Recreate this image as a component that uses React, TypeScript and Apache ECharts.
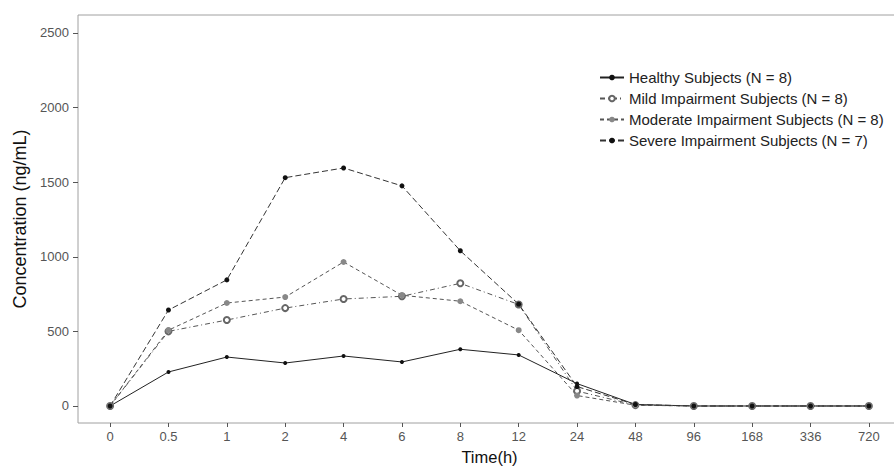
import React, { useEffect, useRef } from "react";
import * as echarts from "echarts";

const timeLabels = ["0", "0.5", "1", "2", "4", "6", "8", "12", "24", "48", "96", "168", "336", "720"];
const yTicks = [0, 500, 1000, 1500, 2000, 2500];

const healthy = [0, 228, 328, 288, 335, 295, 380, 342, 150, 10, 0, 0, 0, 0];
const mild = [0, 500, 576, 656, 717, 735, 822, 680, 100, 6, 0, 0, 0, 0];
const moderate = [0, 508, 690, 730, 965, 742, 702, 508, 70, 5, 0, 0, 0, 0];
const severe = [0, 643, 845, 1530, 1595, 1475, 1040, 682, 130, 10, 0, 0, 0, 0];

const seriesNames = [
  "Healthy Subjects (N = 8)",
  "Mild Impairment Subjects (N = 8)",
  "Moderate Impairment Subjects (N = 8)",
  "Severe Impairment Subjects (N = 7)",
];

const FONT = "'Liberation Sans', Arial, sans-serif";

export default function App() {
  const ref = useRef<HTMLDivElement>(null);
  useEffect(() => {
    if (!ref.current) return;
    const chart = echarts.init(ref.current, undefined, { renderer: "svg" });
    const toPts = (arr: number[]) => arr.map((v, i) => [i, v]);
    const idx = timeLabels.map((_, i) => i);
    chart.setOption({
      animation: false,
      backgroundColor: "#ffffff",
      textStyle: { fontFamily: FONT },
      grid: {
        left: 78,
        right: -7,
        top: 15,
        bottom: 43,
        show: true,
        borderColor: "#a0a0a0",
        borderWidth: 1,
        containLabel: false,
        outerBoundsMode: "none",
      },
      legend: {
        orient: "vertical",
        left: 599,
        top: 70,
        padding: 0,
        itemWidth: 24,
        itemHeight: 7,
        itemGap: 6,
        textStyle: { fontFamily: FONT, fontSize: 15, color: "#222222" },
        data: seriesNames,
      },
      xAxis: {
        type: "value",
        min: -0.55,
        max: 13.55,
        name: "Time(h)",
        nameLocation: "middle",
        nameGap: 25,
        nameTextStyle: { fontFamily: FONT, fontSize: 16.5, color: "#111111" },
        axisLine: { show: false, onZero: false },
        splitLine: { show: false },
        axisTick: {
          show: true,
          length: 4,
          customValues: idx,
          lineStyle: { color: "#555555" },
        },
        axisLabel: {
          customValues: idx,
          formatter: (v: number) => timeLabels[Math.round(v)] ?? "",
          fontFamily: FONT,
          fontSize: 13,
          color: "#555555",
          margin: 7,
        },
      },
      yAxis: {
        type: "value",
        min: -114,
        max: 2620,
        name: "Concentration (ng/mL)",
        nameLocation: "middle",
        nameGap: 46,
        nameTextStyle: { fontFamily: FONT, fontSize: 18, color: "#111111" },
        axisLine: { show: false, onZero: false },
        splitLine: { show: false },
        axisTick: {
          show: true,
          length: 5,
          customValues: yTicks,
          lineStyle: { color: "#555555" },
        },
        axisLabel: {
          customValues: yTicks,
          formatter: (v: number) => String(v),
          fontFamily: FONT,
          fontSize: 13,
          color: "#555555",
          margin: 9,
        },
      },
      series: [
        {
          name: seriesNames[0],
          type: "line",
          data: toPts(healthy),
          symbol: "circle",
          symbolSize: 4,
          itemStyle: { color: "#111111" },
          lineStyle: { color: "#222222", width: 1, type: "solid" },
        },
        {
          name: seriesNames[1],
          type: "line",
          data: toPts(mild),
          symbol: "emptyCircle",
          symbolSize: 6,
          itemStyle: { color: "#666666", borderColor: "#666666", borderWidth: 1 },
          lineStyle: { color: "#555555", width: 1, type: [5, 3, 1, 3] },
        },
        {
          name: seriesNames[2],
          type: "line",
          data: toPts(moderate),
          symbol: "circle",
          symbolSize: 6,
          itemStyle: { color: "#888888" },
          lineStyle: { color: "#555555", width: 1, type: [4, 3] },
        },
        {
          name: seriesNames[3],
          type: "line",
          data: toPts(severe),
          symbol: "circle",
          symbolSize: 5,
          itemStyle: { color: "#111111" },
          lineStyle: { color: "#333333", width: 1, type: [6, 3] },
        },
      ],
    });
    return () => chart.dispose();
  }, []);
  return <div ref={ref} style={{ width: 894, height: 466, position: "absolute", left: 0, top: 0 }} />;
}
